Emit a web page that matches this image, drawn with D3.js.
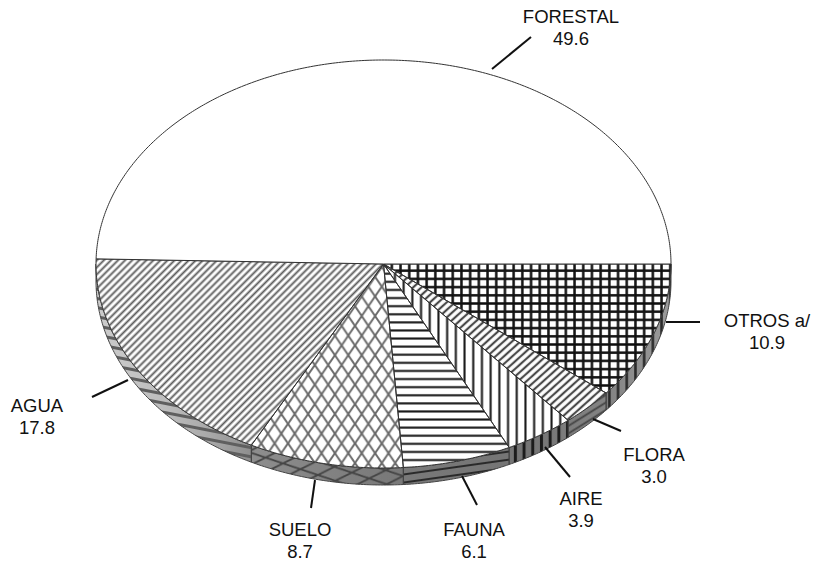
<!DOCTYPE html>
<html>
<head>
<meta charset="utf-8">
<script src="https://cdn.jsdelivr.net/npm/d3@7"></script>
<style>
  html, body { margin: 0; background: #fff; }
  text { font-family: "Liberation Sans", Arial, sans-serif; font-size: 18.5px; fill: #111; }
</style>
</head>
<body>
<script>
const categories = ['OTROS a/', 'FLORA', 'AIRE', 'FAUNA', 'SUELO', 'AGUA', 'FORESTAL']
const values = [10.9, 3.0, 3.9, 6.1, 8.7, 17.8, 49.6]
const valueLabels = ['10.9', '3.0', '3.9', '6.1', '8.7', '17.8', '49.6']

// label placement and leader ends, pixels
const labelX = [767, 654, 581, 474, 300, 37, 571]
const labelY = [327, 461, 505, 536, 536, 412, 23]
const leaders = [
  [666, 322, 700, 322],
  [593, 419, 621, 431],
  [545, 447, 570, 477],
  [462, 476, 477, 505],
  [315, 480, 311, 508],
  [128, 380, 92, 397],
  [492, 69, 531, 37]
]

const width = 817
const height = 566
const cx = 383.5
const cy = 264
const rx = 287.5
const ry = 204
const depth = 17

const svg = d3.select('body').append('svg')
  .attr('width', width)
  .attr('height', height)
  .style('display', 'block')

const xScale = d3.scaleLinear().domain([-1, 1]).range([cx - rx, cx + rx])
const yScale = d3.scaleLinear().domain([-1, 1]).range([cy - ry, cy + ry])

const pie = d3.pie().sort(null).startAngle(Math.PI / 2).endAngle(Math.PI * 2.5)
const arcs = pie(values)

const defs = svg.append('defs')

const blur = defs.append('filter').attr('id', 'soft')
  .attr('x', '-5%').attr('y', '-5%').attr('width', '110%').attr('height', '110%')
blur.append('feGaussianBlur').attr('stdDeviation', 0.55)

const wallGrad = defs.append('linearGradient').attr('id', 'wallGrad')
  .attr('gradientUnits', 'userSpaceOnUse')
  .attr('x1', cx - rx).attr('x2', cx + rx).attr('y1', 0).attr('y2', 0)
const wallStops = [[0, '#cccccc'], [0.12, '#bdbdbd'], [0.2, '#a8a8a8'], [0.27, '#8e8e8e'], [0.5, '#7a7a7a'], [0.75, '#747474'], [0.9, '#858585'], [1, '#9c9c9c']]
wallStops.forEach(s => wallGrad.append('stop').attr('offset', s[0]).attr('stop-color', s[1]))

// one hatch pattern: w x h tile, list of lines, optional transform
function hatch(id, w, h, lines, sw, color, transform, px, py) {
  const p = defs.append('pattern').attr('id', id)
    .attr('patternUnits', 'userSpaceOnUse')
    .attr('x', px || 0).attr('y', py || 0)
    .attr('width', w).attr('height', h)
  if (transform) p.attr('patternTransform', transform)
  lines.forEach(l => p.append('line')
    .attr('x1', l[0]).attr('y1', l[1]).attr('x2', l[2]).attr('y2', l[3])
    .attr('stroke', color).attr('stroke-width', sw))
}

const vLine = (w, h) => [w / 2, 0, w / 2, h]
const hLine = (w, h) => [0, h / 2, w, h / 2]

hatch('p0', 8.7, 8.2, [vLine(8.7, 8.2), hLine(8.7, 8.2)], 2.5, '#111', null, 605, 266.6)
hatch('p1', 5.6, 5.6, [hLine(5.6, 5.6)], 2.2, '#484848', 'rotate(-42)')
hatch('p2', 8.7, 8, [vLine(8.7, 8)], 2.1, '#1a1a1a', null, 486.3, 0)
hatch('p3', 8, 8.1, [hLine(8, 8.1)], 2.1, '#1a1a1a', null, 0, 342.6)
hatch('p4', 13.4, 19.6, [[0, 0, 13.4, 19.6], [0, 19.6, 13.4, 0]], 2, '#6a6a6a', null, 288, 365)
hatch('p5', 5, 5, [hLine(5, 5)], 1.9, '#5c5c5c', 'rotate(-45)')

// same hatches as they look on the side wall
hatch('w0', 8.7, 8, [vLine(8.7, 8)], 2.6, '#2a2a2a', null, 605, 0)
hatch('w1', 6.4, 6.4, [hLine(6.4, 6.4)], 1.8, '#444', 'rotate(-32)')
hatch('w2', 8.7, 8, [vLine(8.7, 8)], 3, '#1c1c1c', null, 511, 0)
hatch('w3', 8, 8, [hLine(8, 8)], 1.8, '#222', 'rotate(-8)', 0, 2)
hatch('w4', 34, 14, [[0, 0, 34, 14], [0, 14, 34, 0]], 1.8, '#444', 'rotate(-4)', 250, 440)
hatch('w5', 9, 9, [hLine(9, 9)], 3, '#5e5e5e', 'rotate(11)')

const point = a => [xScale(Math.sin(a)), yScale(-Math.cos(a))]

function arcPoints(a0, a1) {
  const n = Math.max(2, Math.ceil(Math.abs(a1 - a0) / 0.01))
  return d3.range(n + 1).map(i => point(a0 + (a1 - a0) * i / n))
}

const line = d3.line()

const pieG = svg.append('g').attr('filter', 'url(#soft)')

// side wall, only the front half shows
const lo = Math.PI / 2
const hi = Math.PI * 1.5
const wallArcs = arcs
  .map((d, i) => ({ i, a0: Math.max(d.startAngle, lo), a1: Math.min(d.endAngle, hi) }))
  .filter(d => d.a1 > d.a0)

const wallPath = d => {
  const top = arcPoints(d.a0, d.a1)
  const bottom = arcPoints(d.a1, d.a0).map(p => [p[0], p[1] + depth])
  return line(top.concat(bottom)) + 'Z'
}

pieG.selectAll('.wall').data(wallArcs).enter().append('path')
  .attr('class', 'wall')
  .attr('d', wallPath)
  .attr('fill', 'url(#wallGrad)')

pieG.selectAll('.wallHatch').data(wallArcs).enter().append('path')
  .attr('class', 'wallHatch')
  .attr('d', wallPath)
  .attr('fill', d => `url(#w${d.i})`)
  .attr('stroke', '#444')
  .attr('stroke-width', 1)

// top face
const slicePath = d => line([[cx, cy]].concat(arcPoints(d.startAngle, d.endAngle))) + 'Z'

pieG.selectAll('.sliceBg').data(arcs).enter().append('path')
  .attr('class', 'sliceBg')
  .attr('d', slicePath)
  .attr('fill', '#fff')

pieG.selectAll('.slice').data(arcs).enter().append('path')
  .attr('class', 'slice')
  .attr('d', slicePath)
  .attr('fill', (d, i) => i === 6 ? '#fff' : `url(#p${i})`)
  .attr('stroke', '#333')
  .attr('stroke-width', 1)

// leaders and labels
svg.selectAll('.leader').data(leaders).enter().append('line')
  .attr('class', 'leader')
  .attr('x1', d => d[0]).attr('y1', d => d[1])
  .attr('x2', d => d[2]).attr('y2', d => d[3])
  .attr('stroke', '#111')
  .attr('stroke-width', 2)

const labels = svg.selectAll('.label').data(categories).enter().append('g')
  .attr('class', 'label')
  .attr('text-anchor', 'middle')

labels.append('text')
  .attr('x', (d, i) => labelX[i])
  .attr('y', (d, i) => labelY[i])
  .text(d => d)

labels.append('text')
  .attr('x', (d, i) => labelX[i])
  .attr('y', (d, i) => labelY[i] + 22)
  .text((d, i) => valueLabels[i])
</script>
</body>
</html>
